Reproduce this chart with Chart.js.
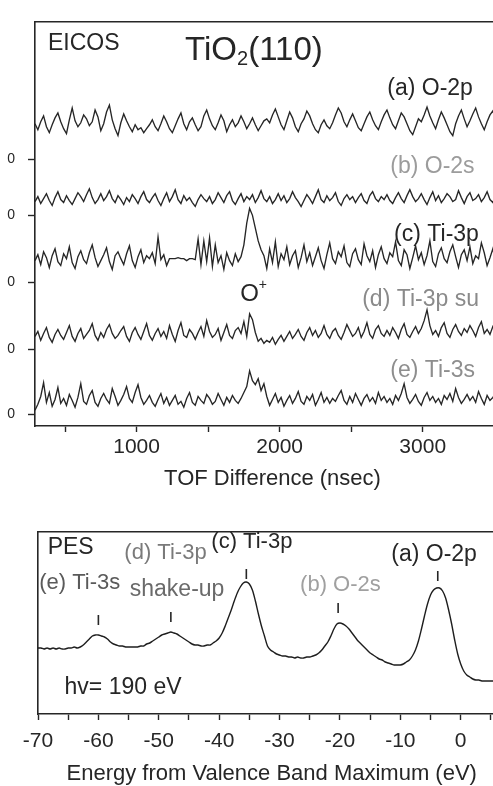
<!DOCTYPE html>
<html>
<head>
<meta charset="utf-8">
<title>TiO2(110) EICOS and PES</title>
<script src="https://cdn.jsdelivr.net/npm/chart.js@4.4.1/dist/chart.umd.min.js"></script>
<style>
html, body { margin: 0; padding: 0; background: #fff; overflow: hidden; }
body { width: 493px; height: 786px; position: relative; }
#eicos { position: absolute; left: 0; top: 0; }
#pes { position: absolute; left: 0; top: 510px; }
</style>
</head>
<body>
<canvas id="eicos" width="512" height="500"></canvas>
<canvas id="pes" width="512" height="276"></canvas>
<script>
"use strict";

/* EICOS: O+ yield vs TOF difference, one trace per excited level */
const tofStart = 290;
const tofStep = 20;
const tofTicks = [500, 1000, 1500, 2000, 2500, 3000, 3500];
const tofLabelled = [1000, 2000, 3000];

// zero line of each trace on the stacked axis
const traceZero = [271, 214, 146, 78, 12];

const countsO2p = [
    36,30,38,44,33,27,35,42,47,38,31,26,40,52,39,33,37,45,41,34,38,50,43,29,36,48,55,40,31,24,37,46,39,33,28,35,30,32,27,31,35,
    40,33,29,36,44,38,31,27,34,41,47,36,30,38,42,35,29,33,44,50,41,34,30,37,45,39,28,35,40,33,37,44,38,31,36,42,35,29,34,39,41,
    37,45,51,43,35,30,39,48,42,33,28,36,41,49,44,36,30,27,35,40,34,31,37,45,52,47,38,33,40,46,39,32,29,36,43,48,40,34,30,38,45,
    50,42,35,31,39,47,43,36,29,25,33,41,38,45,53,44,37,31,40,48,42,35,28,24,36,44,50,41,33,39,46,52,43,36,30,38,45,49,41,35,40,47,39
];
const countsO2s = [
    14,19,12,17,22,15,10,18,24,16,13,20,15,11,17,23,19,14,21,27,18,12,16,22,15,19,25,17,13,20,16,11,18,14,21,17,12,19,24,16,13,
    18,22,15,10,17,23,14,19,26,16,12,20,15,18,13,9,16,21,17,14,19,12,16,23,18,13,20,24,15,11,17,22,14,19,16,21,13,18,25,17,14,
    19,12,16,22,15,20,13,17,24,18,14,9,15,21,17,12,19,26,16,13,20,15,18,23,14,10,17,21,16,19,13,18,22,15,12,20,24,17,14,19,16,
    21,15,12,18,23,17,13,20,26,19,14,17,22,16,11,18,24,15,20,13,17,22,19,14,16,25,18,12,19,23,15,17,21,14,18,24,16,13,20,17,22,15,19
];
const countsTi3p = [
    22,28,18,31,25,15,27,34,21,17,29,24,36,20,14,26,32,23,19,30,38,25,16,22,28,35,21,13,27,31,24,18,29,37,22,15,26,33,20,27,24,
    30,19,46,23,28,17,24,24,24,25,24,24,22,24,24,23,44,18,42,21,45,16,38,20,27,13,30,22,17,29,21,26,38,60,75,68,55,42,33,27,14,
    34,20,41,16,29,23,36,18,27,32,15,25,38,21,30,17,26,35,22,14,28,40,24,19,31,26,37,20,16,29,34,23,18,39,27,21,32,15,28,36,24,
    19,30,26,41,22,17,33,28,14,25,37,23,30,18,27,42,21,16,29,35,24,20,31,38,26,15,28,33,22,36,19,27,24,40,30,17,25,34,21,29,32,23,38
];
const countsTi3pSat = [
    13,18,9,16,22,12,7,15,20,14,10,17,24,13,8,16,21,11,15,19,26,14,9,17,12,20,25,16,11,14,19,23,13,8,17,22,15,10,18,26,14,
    9,16,21,13,18,11,24,15,8,19,27,14,12,20,16,10,17,23,13,29,18,12,15,21,9,17,25,14,11,19,22,16,28,13,36,30,17,8,11,6,9,
    7,12,5,10,14,8,13,18,11,15,20,13,9,17,22,14,19,12,16,24,15,11,18,21,14,10,17,25,19,13,16,22,12,18,27,15,11,20,24,16,13,
    19,14,22,17,11,20,26,15,12,18,23,16,21,29,40,24,15,19,13,22,27,16,12,20,25,18,14,21,17,24,19,13,22,28,16,20,15,23,18,12,21,26,17
];
const countsTi3s = [
    4,10,18,32,12,22,8,15,27,11,16,9,20,14,7,17,31,13,10,19,24,12,8,16,21,15,11,26,18,9,14,20,28,16,12,22,30,17,10,14,19,
    12,8,15,21,11,17,9,14,19,10,13,7,16,22,12,9,18,14,11,20,16,10,13,21,15,9,17,12,19,14,11,16,22,28,44,34,30,36,24,31,18,
    9,15,21,12,17,8,14,19,11,16,23,13,10,18,14,20,9,15,22,12,17,11,16,13,19,24,14,10,18,12,21,15,9,16,20,13,17,11,22,14,18,
    12,16,10,19,14,21,31,17,11,15,20,13,9,17,22,14,18,12,16,10,19,15,21,13,26,17,11,15,20,14,18,12,23,16,10,19,14,17,21,13,16,11,18
];
const traces = [countsO2p, countsO2s, countsTi3p, countsTi3pSat, countsTi3s];

/* PES valence/core spectrum, hv = 190 eV */
const energyStart = -70;
const energyStep = 0.5;
const energyTicks = [-70, -65, -60, -55, -50, -45, -40, -35, -30, -25, -20, -15, -10, -5, 0, 5];
const energyLabelled = [-70, -60, -50, -40, -30, -20, -10, 0];
const pesIntensity = [
    66,66,65,66,65,66,65,66,65,65,
    66,66,67,66,67,69,72,75,78,79,
    79,78,77,75,72,70,69,68,68,67,
    67,67,67,67,68,68,70,71,73,75,
    77,79,80,81,82,81,80,78,76,74,
    72,70,69,69,68,68,69,69,71,73,
    76,81,88,96,104,113,121,127,131,132,
    130,124,113,100,88,78,68,64,62,60,
    59,58,58,57,57,56,57,56,56,57,
    57,58,59,61,64,68,72,78,85,90,
    91,90,88,85,81,77,73,70,67,64,
    61,59,57,55,54,52,51,50,49,49,
    49,50,52,54,58,64,73,85,98,110,
    119,124,126,126,123,116,104,90,74,60,
    50,43,39,37,35,34,34,33,33,33,
    33,33,33,33,33,33
];
const peakEnergy = [-60, -48, -35.5, -20.3, -3.8];
const peakMark = [94, 97, 140, 106, 138];

const FONT = "'Liberation Sans', Arial, sans-serif";
const INK = "#262626";

Chart.defaults.font.family = FONT;
Chart.defaults.color = INK;

// text drawn on top of the plot, positioned in data units
function notesPlugin(items) {
    return {
        id: "notes",
        afterDatasetsDraw(chart) {
            const ctx = chart.ctx;
            const xs = chart.scales.x;
            const ys = chart.scales.y;
            ctx.save();
            ctx.textBaseline = "middle";
            ctx.textAlign = "left";
            for (const note of items) {
                let px = xs.getPixelForValue(note.x);
                const py = ys.getPixelForValue(note.y);
                ctx.fillStyle = note.color || INK;
                for (const part of note.parts) {
                    ctx.font = part[1] + "px " + FONT;
                    ctx.fillText(part[0], px, py + (part[2] || 0));
                    px += ctx.measureText(part[0]).width;
                }
            }
            ctx.restore();
        }
    };
}

function frameAxis(min, max) {
    return {
        type: "linear", position: "top", min: min, max: max,
        ticks: { display: false },
        grid: { display: false, drawTicks: false },
        border: { display: true, color: INK, width: 1.6 }
    };
}

function tofPoints(values, zero) {
    let pts = [];
    for (let i = 0; i < values.length; i++)
        pts.push({ x: tofStart + i * tofStep, y: zero + values[i] });
    return pts;
}

function energyPoints(values) {
    let pts = [];
    for (let i = 0; i < values.length; i++)
        pts.push({ x: energyStart + i * energyStep, y: values[i] });
    return pts;
}

/* ---- EICOS panel ---- */
let eicosSets = [];
for (let k = 0; k < traces.length; k++) {
    eicosSets.push({
        data: tofPoints(traces[k], traceZero[k]),
        borderColor: "#262626",
        borderWidth: 1.35,
        pointRadius: 0,
        tension: 0
    });
}

const eicosNotes = [
    { x: 381, y: 388, parts: [["EICOS", 23]] },
    { x: 1339, y: 381, parts: [["TiO", 33], ["2", 20, 9], ["(110)", 33]] },
    { x: 2752, y: 343, parts: [["(a) O-2p", 23]] },
    { x: 2773, y: 263, parts: [["(b) O-2s", 23]], color: "#9c9c9c" },
    { x: 2800, y: 194, parts: [["(c) Ti-3p", 23]] },
    { x: 1724, y: 134, parts: [["O", 24], ["+", 14, -9]] },
    { x: 2577, y: 128, parts: [["(d) Ti-3p su", 23]], color: "#8a8a8a" },
    { x: 2773, y: 56, parts: [["(e) Ti-3s", 23]], color: "#8e8e8e" }
];

new Chart(document.getElementById("eicos"), {
    type: "line",
    data: { datasets: eicosSets },
    options: {
        responsive: false,
        animation: false,
        devicePixelRatio: 1,
        layout: { padding: { top: 15, right: 2, bottom: 0, left: 0 } },
        plugins: { legend: { display: false }, tooltip: { enabled: false } },
        scales: {
            x: {
                type: "linear", position: "bottom", min: tofStart, max: 3610,
                afterBuildTicks: function (scale) { scale.ticks = tofTicks.map(v => ({ value: v })); },
                afterFit: function (scale) { scale.height = 74; },
                ticks: {
                    autoSkip: false, maxRotation: 0, padding: 3,
                    font: { size: 21 }, color: INK,
                    callback: v => tofLabelled.includes(v) ? String(v) : ""
                },
                grid: { drawOnChartArea: false, drawTicks: true, tickLength: 6, tickColor: INK, tickWidth: 1.4 },
                border: { color: INK, width: 1.6 },
                title: { display: true, text: "TOF Difference (nsec)", font: { size: 22, lineHeight: 1.1 }, color: INK, padding: { top: 6, bottom: 9 } }
            },
            top: frameAxis(tofStart, 3610),
            y: {
                type: "linear", position: "left", min: 0, max: 411,
                afterBuildTicks: function (scale) { scale.ticks = traceZero.map(v => ({ value: v })); },
                afterFit: function (scale) { scale.width = 35; },
                ticks: { callback: () => "0", font: { size: 14 }, color: INK, padding: 13 },
                grid: { drawOnChartArea: false, drawTicks: true, tickLength: 7, tickColor: INK, tickWidth: 1.4 },
                border: { color: INK, width: 1.6 }
            }
        }
    },
    plugins: [notesPlugin(eicosNotes)]
});

/* ---- PES panel ---- */
const pesNotes = [
    { x: -68.4, y: 166, parts: [["PES", 23]] },
    { x: -55.7, y: 161, parts: [["(d) Ti-3p", 22]], color: "#7a7a7a" },
    { x: -41.3, y: 172, parts: [["(c) Ti-3p", 22]] },
    { x: -11.5, y: 159, parts: [["(a) O-2p", 23]] },
    { x: -69.8, y: 131, parts: [["(e) Ti-3s", 22]], color: "#5a5a5a" },
    { x: -54.8, y: 124, parts: [["shake-up", 23]], color: "#6a6a6a" },
    { x: -26.6, y: 129, parts: [["(b) O-2s", 22]], color: "#a0a0a0" },
    { x: -65.6, y: 26, parts: [["hv= 190 eV", 23]] }
];

new Chart(document.getElementById("pes"), {
    type: "line",
    data: {
        datasets: [
            {
                data: energyPoints(pesIntensity),
                borderColor: "#1e1e1e",
                borderWidth: 1.4,
                pointRadius: 0,
                tension: 0.3
            },
            {
                type: "scatter",
                data: peakEnergy.map((e, i) => ({ x: e, y: peakMark[i] })),
                pointStyle: "line",
                rotation: 90,
                radius: 5,
                borderColor: INK,
                borderWidth: 1.6,
                showLine: false
            }
        ]
    },
    options: {
        responsive: false,
        animation: false,
        devicePixelRatio: 1,
        layout: { padding: { top: 22, right: 2, bottom: 0, left: 0 } },
        plugins: { legend: { display: false }, tooltip: { enabled: false } },
        scales: {
            x: {
                type: "linear", position: "bottom", min: energyStart, max: 7.4,
                afterBuildTicks: function (scale) { scale.ticks = energyTicks.map(v => ({ value: v })); },
                afterFit: function (scale) { scale.height = 72; },
                ticks: {
                    autoSkip: false, maxRotation: 0, padding: 9,
                    font: { size: 21 }, color: INK,
                    callback: v => energyLabelled.includes(v) ? String(v) : ""
                },
                grid: { drawOnChartArea: false, drawTicks: true, tickLength: 6, tickColor: INK, tickWidth: 1.4 },
                border: { color: INK, width: 1.6 },
                title: { display: true, text: "Energy from Valence Band Maximum (eV)", font: { size: 22, lineHeight: 1.0 }, color: INK, padding: { top: 0, bottom: 1 } }
            },
            top: frameAxis(energyStart, 7.4),
            y: {
                type: "linear", position: "left", min: 0, max: 182,
                afterFit: function (scale) { scale.width = 38; },
                ticks: { display: false },
                grid: { display: false, drawTicks: false },
                border: { color: INK, width: 1.6 }
            }
        }
    },
    plugins: [notesPlugin(pesNotes)]
});
</script>
</body>
</html>
